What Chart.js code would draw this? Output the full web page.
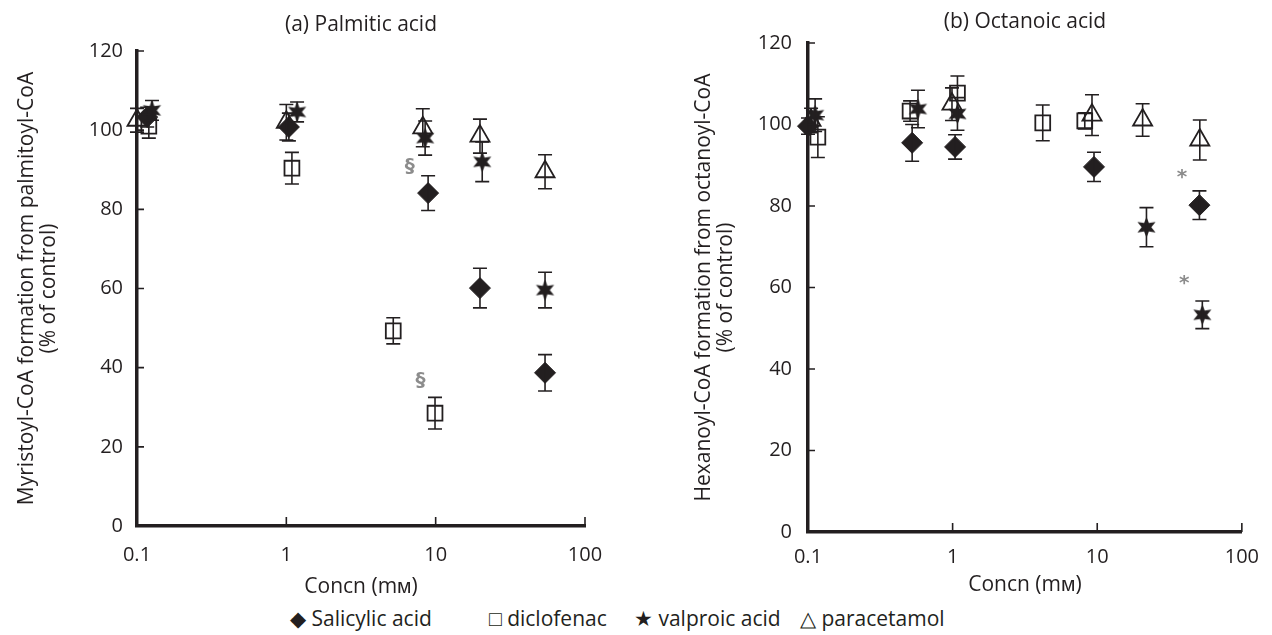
<!DOCTYPE html>
<html>
<head>
<meta charset="utf-8">
<title>Acyl-CoA formation</title>
<script src="https://cdn.jsdelivr.net/npm/chart.js@4.4.0/dist/chart.umd.min.js"></script>
<style>
  body { margin: 0; background: #fff; width: 1272px; height: 635px; position: relative; overflow: hidden; font-family: "Open Sans", sans-serif; color: #231f20; }
  #panelA { position: absolute; left: 0; top: 0; }
  #panelB { position: absolute; left: 640px; top: 0; }
  #legend span { position: absolute; top: 605px; font-size: 21px; line-height: 26px; white-space: pre; }
</style>
</head>
<body>
<canvas id="panelA" width="640" height="600"></canvas>
<canvas id="panelB" width="632" height="600"></canvas>
<div id="legend">
  <span style="left:290px">◆ Salicylic acid</span>
  <span style="left:489px">□ diclofenac</span>
  <span style="left:634px">★ valproic acid</span>
  <span style="left:800px">△ paracetamol</span>
</div>
<script>
// Axis ticks
const xTicks = [0.1, 1, 10, 100];
const yMin = 0, yMax = 120, yStep = 20;

// (a) Palmitic acid
const salicylicA_x = [0.117, 1.04, 8.9, 19.8, 54];
const salicylicA_y = [103.3, 100.8, 84.1, 60.1, 38.7];
const salicylicA_err = [2.5, 3.5, 4.4, 5, 4.6];
const diclofenacA_x = [0.12, 1.09, 5.2, 9.9];
const diclofenacA_y = [101, 90.4, 49.3, 28.5];
const diclofenacA_err = [3, 4, 3.3, 4];
const valproicA_x = [0.126, 1.18, 8.5, 20.5, 54];
const valproicA_y = [105, 104.6, 98, 92, 59.6];
const valproicA_err = [2.5, 2.5, 4.3, 5, 4.5];
const paracetamolA_x = [0.1, 1.0, 8.2, 19.8, 54];
const paracetamolA_y = [102.5, 102, 100.6, 98.5, 89.5];
const paracetamolA_err = [3, 4.5, 4.8, 4.3, 4.3];
const marksA = [{text: '§', x: 6.7, y: 90.7}, {text: '§', x: 7.9, y: 36.6}];

// (b) Octanoic acid
const salicylicB_x = [0.1, 0.525, 1.04, 9.5, 50.9];
const salicylicB_y = [99.6, 95.5, 94.5, 89.6, 80.2];
const salicylicB_err = [2, 4.5, 3, 3.6, 3.5];
const diclofenacB_x = [0.117, 0.508, 1.08, 4.2, 8.2];
const diclofenacB_y = [96.9, 103.3, 107.7, 100.4, 100.9];
const diclofenacB_err = [5, 2.5, 4.2, 4.4, 2];
const valproicB_x = [0.112, 0.576, 1.08, 21.9, 53.3];
const valproicB_y = [102.3, 103.8, 102.6, 74.8, 53.3];
const valproicB_err = [4, 4.6, 4, 4.8, 3.4];
const paracetamolB_x = [0.105, 0.99, 9.2, 20.6, 51.2];
const paracetamolB_y = [101, 105, 102.3, 101.1, 96.2];
const paracetamolB_err = [3, 4, 5, 4, 4.9];
const marksB = [{text: '*', x: 38.6, y: 86.9}, {text: '*', x: 39.9, y: 60.9}];

const INK = '#231f20';
Chart.defaults.font.family = "'Open Sans', sans-serif";
Chart.defaults.color = INK;

// Filled six-pointed star marker
function makeStar(size) {
    const c = document.createElement('canvas');
    c.width = c.height = size;
    const g = c.getContext('2d');
    const r1 = size / 2, r2 = size / 4.4;
    g.beginPath();
    for (let i = 0; i < 12; i++) {
        const r = i % 2 ? r2 : r1;
        const a = -Math.PI / 2 + i * Math.PI / 6;
        g.lineTo(size / 2 + r * Math.cos(a), size / 2 + r * Math.sin(a));
    }
    g.closePath();
    g.fillStyle = INK;
    g.fill();
    return c;
}
const starImg = makeStar(21);

const styles = {
    diamond: { pointStyle: 'rectRot', pointRadius: 10.5, backgroundColor: INK, borderColor: INK, borderWidth: 1 },
    square: { pointStyle: 'rect', pointRadius: 10.5, backgroundColor: 'rgba(0,0,0,0)', borderColor: INK, borderWidth: 1.8 },
    star: { pointStyle: starImg, pointRadius: 9, backgroundColor: INK, borderColor: INK },
    triangle: { pointStyle: 'triangle', pointRadius: 11, backgroundColor: 'rgba(0,0,0,0)', borderColor: INK, borderWidth: 1.8 }
};

function series(label, xs, ys, errs, style) {
    return Object.assign({
        label: label,
        data: xs.map((x, i) => ({ x: x, y: ys[i] })),
        errors: errs,
        showLine: false,
        clip: false
    }, style);
}

// Error bars with caps
const errorBars = {
    id: 'errorBars',
    afterDatasetsDraw(chart) {
        const { ctx, scales: { x, y } } = chart;
        ctx.save();
        ctx.strokeStyle = INK;
        ctx.lineWidth = 1.6;
        chart.data.datasets.forEach(ds => {
            ds.data.forEach((p, i) => {
                const e = ds.errors[i];
                const px = x.getPixelForValue(p.x);
                const top = y.getPixelForValue(p.y + e);
                const bot = y.getPixelForValue(p.y - e);
                ctx.beginPath();
                ctx.moveTo(px, top); ctx.lineTo(px, bot);
                ctx.moveTo(px - 7, top); ctx.lineTo(px + 7, top);
                ctx.moveTo(px - 7, bot); ctx.lineTo(px + 7, bot);
                ctx.stroke();
            });
        });
        ctx.restore();
    }
};

// Inward tick marks and significance marks
const innerTicks = {
    id: 'innerTicks',
    afterDraw(chart, args, opts) {
        const { ctx, chartArea: a, scales: { x, y } } = chart;
        ctx.save();
        ctx.strokeStyle = INK;
        ctx.lineWidth = 1.6;
        ctx.beginPath();
        y.ticks.forEach(t => {
            if (t.value === yMin) return;
            const py = y.getPixelForValue(t.value);
            ctx.moveTo(a.left, py); ctx.lineTo(a.left + 7, py);
        });
        x.ticks.forEach(t => {
            if (t.value === xTicks[0]) return;
            const px = x.getPixelForValue(t.value);
            ctx.moveTo(px, a.bottom); ctx.lineTo(px, a.bottom - 9);
        });
        ctx.stroke();
        ctx.fillStyle = '#8c8c8c';
        ctx.font = 'bold 20px "DejaVu Sans", sans-serif';
        ctx.textAlign = 'center';
        ctx.textBaseline = 'middle';
        (opts.marks || []).forEach(m => {
            ctx.fillText(m.text, x.getPixelForValue(m.x), y.getPixelForValue(m.y));
        });
        ctx.restore();
    }
};

function makePanel(id, cfg) {
    return new Chart(document.getElementById(id), {
        type: 'scatter',
        data: { datasets: cfg.datasets },
        plugins: [errorBars, innerTicks],
        options: {
            responsive: false,
            devicePixelRatio: 1,
            animation: false,
            layout: { padding: { left: 0, top: 0, right: cfg.padRight, bottom: 0 } },
            plugins: {
                legend: { display: false },
                tooltip: { enabled: false },
                title: {
                    display: true,
                    fullSize: false,
                    text: cfg.title,
                    font: { size: 21, weight: 'normal', lineHeight: 1.2 },
                    padding: cfg.titlePad
                },
                innerTicks: { marks: cfg.marks }
            },
            scales: {
                x: {
                    type: 'logarithmic',
                    min: xTicks[0],
                    max: xTicks[xTicks.length - 1],
                    afterBuildTicks: scale => { scale.ticks = xTicks.map(v => ({ value: v })); },
                    afterFit: scale => { scale.height = cfg.xHeight; },
                    grid: { display: false, drawTicks: false },
                    border: { display: true, width: 3.5, color: INK },
                    ticks: {
                        autoSkip: false,
                        maxRotation: 0,
                        padding: cfg.xTickPad,
                        font: { size: 20, lineHeight: 1.2 },
                        callback: v => String(v)
                    },
                    title: {
                        display: true,
                        text: 'Concn (mᴍ)',
                        font: { size: 21, lineHeight: 1.2 },
                        padding: { top: 0, bottom: cfg.xTitlePad }
                    }
                },
                y: {
                    min: yMin,
                    max: yMax,
                    afterFit: scale => { scale.width = cfg.yWidth; },
                    grid: { display: false, drawTicks: false },
                    border: { display: true, width: 3.5, color: INK },
                    ticks: { stepSize: yStep, padding: cfg.yTickPad, font: { size: 20 } },
                    title: {
                        display: true,
                        text: cfg.yTitle,
                        font: { size: 21, lineHeight: 1.05 },
                        padding: { top: cfg.yTitlePad, bottom: 0 }
                    }
                }
            }
        }
    });
}

makePanel('panelA', {
    title: '(a) Palmitic acid',
    titlePad: { top: 12.4, bottom: 13.4 },
    padRight: 55,
    xHeight: 74,
    yWidth: 137,
    xTickPad: 17.5,
    xTitlePad: 0,
    yTickPad: 14,
    yTitlePad: 16,
    yTitle: ['Myristoyl-CoA formation from palmitoyl-CoA', '(% of control)'],
    marks: marksA,
    datasets: [
        series('Salicylic acid', salicylicA_x, salicylicA_y, salicylicA_err, styles.diamond),
        series('diclofenac', diclofenacA_x, diclofenacA_y, diclofenacA_err, styles.square),
        series('valproic acid', valproicA_x, valproicA_y, valproicA_err, styles.star),
        series('paracetamol', paracetamolA_x, paracetamolA_y, paracetamolA_err, styles.triangle)
    ]
});

makePanel('panelB', {
    title: '(b) Octanoic acid',
    titlePad: { top: 9.4, bottom: 8.4 },
    padRight: 22,
    xHeight: 68,
    yWidth: 168,
    xTickPad: 13,
    xTitlePad: 2.4,
    yTickPad: 16,
    yTitlePad: 53,
    yTitle: ['Hexanoyl-CoA formation from octanoyl-CoA', '(% of control)'],
    marks: marksB,
    datasets: [
        series('Salicylic acid', salicylicB_x, salicylicB_y, salicylicB_err, styles.diamond),
        series('diclofenac', diclofenacB_x, diclofenacB_y, diclofenacB_err, styles.square),
        series('valproic acid', valproicB_x, valproicB_y, valproicB_err, styles.star),
        series('paracetamol', paracetamolB_x, paracetamolB_y, paracetamolB_err, styles.triangle)
    ]
});
</script>
</body>
</html>
